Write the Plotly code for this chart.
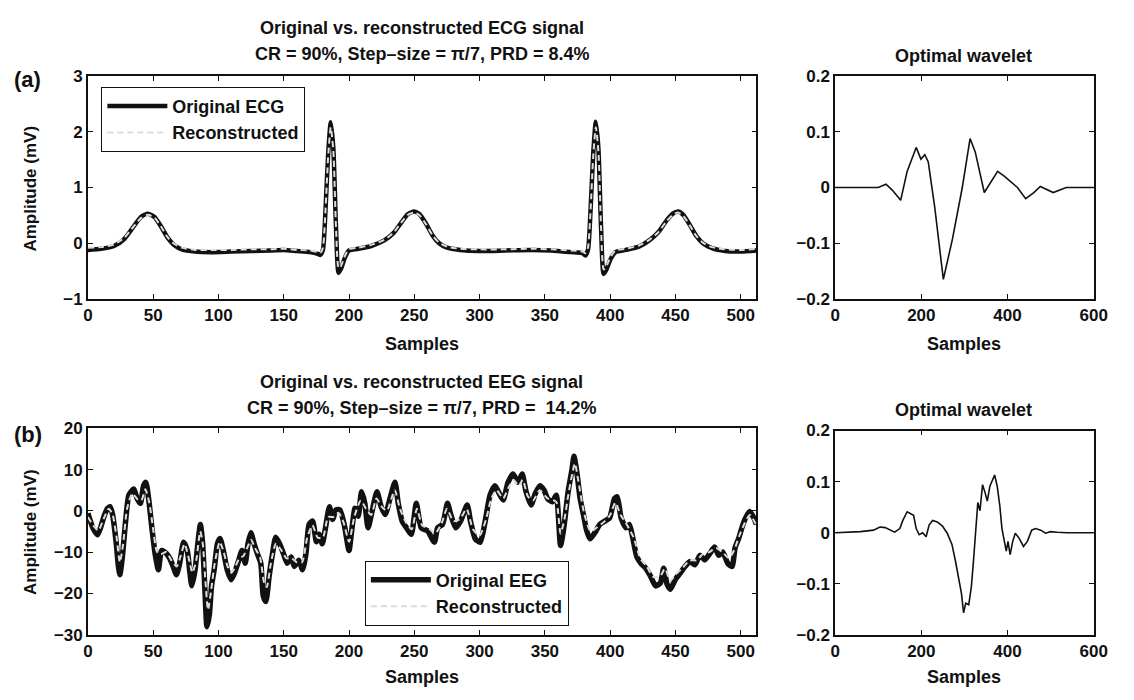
import plotly.graph_objects as go

# ---------------- DATA ----------------
ecg_x = [0, 10, 20, 28, 35, 41, 46, 51, 56, 61, 66, 72, 82, 95, 110, 125, 140, 150, 160, 170, 176, 178, 180, 182, 184, 186, 188, 190, 192, 194, 197, 200, 207, 217, 227, 234, 240, 245, 250, 254, 259, 264, 269, 275, 285, 300, 320, 340, 355, 370, 379, 381, 383, 385, 387, 389, 391, 393, 395, 397, 400, 404, 412, 422, 430, 437, 443, 448, 452, 456, 461, 466, 471, 478, 488, 500, 512]
ecg_orig = [-0.12, -0.10, -0.05, 0.08, 0.30, 0.48, 0.53, 0.47, 0.30, 0.10, -0.03, -0.11, -0.15, -0.16, -0.15, -0.14, -0.13, -0.12, -0.14, -0.16, -0.19, -0.21, -0.12, 0.6, 1.6, 2.17, 1.7, 0.3, -0.53, -0.45, -0.25, -0.13, -0.10, -0.05, 0.05, 0.18, 0.37, 0.52, 0.57, 0.52, 0.35, 0.14, 0.00, -0.08, -0.12, -0.14, -0.13, -0.12, -0.13, -0.16, -0.18, -0.22, -0.12, 0.6, 1.6, 2.18, 1.7, 0.3, -0.55, -0.48, -0.30, -0.16, -0.12, -0.06, 0.05, 0.20, 0.40, 0.53, 0.57, 0.51, 0.33, 0.13, 0.00, -0.09, -0.14, -0.15, -0.13]
ecg_rec = [-0.08, -0.07, -0.02, 0.10, 0.30, 0.46, 0.51, 0.46, 0.30, 0.11, -0.01, -0.08, -0.12, -0.12, -0.12, -0.11, -0.11, -0.10, -0.12, -0.13, -0.16, -0.17, -0.08, 0.6, 1.55, 2.08, 1.65, 0.3, -0.45, -0.40, -0.22, -0.11, -0.08, -0.03, 0.06, 0.19, 0.37, 0.51, 0.55, 0.50, 0.34, 0.14, 0.01, -0.06, -0.10, -0.11, -0.11, -0.10, -0.11, -0.13, -0.15, -0.18, -0.08, 0.6, 1.55, 2.08, 1.65, 0.3, -0.47, -0.42, -0.26, -0.13, -0.10, -0.04, 0.06, 0.20, 0.39, 0.51, 0.55, 0.49, 0.32, 0.13, 0.01, -0.07, -0.11, -0.12, -0.10]

wav_a_x = [0, 100, 118, 133, 152, 167, 188, 199, 208, 216, 231, 251, 272, 295, 313, 325, 346, 359, 377, 393, 423, 442, 461, 476, 491, 506, 536, 600]
wav_a_y = [0, 0, 0.006, -0.005, -0.023, 0.029, 0.072, 0.051, 0.059, 0.046, -0.035, -0.165, -0.093, 0.0, 0.088, 0.064, -0.009, 0.006, 0.029, 0.020, 0.0, -0.020, -0.009, 0.002, -0.004, -0.009, 0.0, 0.0]

eeg_x = [0, 3.8, 7.4, 10.1, 12.4, 15.1, 16.9, 18.9, 21.5, 23.4, 24.5, 26.4, 28.9, 31.4, 35.1, 37.7, 40.2, 42.7, 44.4, 46.5, 49, 51.5, 54, 56.5, 60.3, 62.8, 65.3, 67.8, 70.3, 73.3, 76.1, 77.9, 79.6, 82.1, 84.2, 86.2, 87.9, 89.6, 91.2, 93, 94.7, 96.7, 99.2, 101.2, 103.7, 106.7, 109.7, 112.3, 115.5, 118, 120.5, 122.6, 124.8, 127.3, 129.8, 132.4, 134.3, 136.3, 138.8, 141.4, 143.9, 146.8, 149.8, 152.7, 155.7, 158.1, 161.5, 164.4, 167, 169.4, 172.1, 175, 177, 179.5, 182, 185, 187.5, 190, 193, 196.3, 200, 202, 204.6, 207, 209.6, 212.1, 214.6, 217.6, 221.4, 224.6, 227.7, 231.4, 235.2, 237.7, 240.7, 244, 247.7, 251.5, 255.3, 260.3, 265.4, 267.9, 271.6, 275.4, 277.9, 281.7, 285.4, 290.5, 293, 296.7, 300.5, 304.3, 308, 311.8, 315, 318.1, 321.8, 325.6, 329.4, 332.6, 335.6, 339.4, 342.7, 346.2, 349.4, 352, 355.7, 358.7, 362, 364.5, 367.8, 370.8, 372.3, 374.5, 377, 379.5, 382.1, 384.6, 388.3, 392.1, 395.9, 399.6, 403.4, 405.4, 408.4, 412.2, 414.7, 417.2, 420.5, 423.5, 427.2, 431, 434.8, 438.5, 441, 443.6, 446.1, 449.8, 453.6, 457.4, 461.1, 464.9, 468.7, 472.4, 476.2, 480, 483.2, 486.2, 490, 493.3, 495.8, 498.3, 501.3, 503.8, 506.8, 510, 512]
eeg_orig = [-0.6, -4.1, -5.8, -3.7, -1.3, 0.6, 1.0, -0.9, -7.2, -13.5, -15.5, -11.2, -2.5, 3.8, 5.3, 3.0, 1.8, 6.1, 6.9, 3.0, -4.1, -10.4, -14.3, -9.6, -10.4, -11.6, -13.5, -15.5, -12.7, -7.6, -9.6, -14.3, -18.2, -14.3, -8.0, -3.3, -8.0, -19.0, -28.1, -25.3, -18.2, -14.3, -8.0, -6.7, -9.6, -14.3, -16.7, -15.1, -12.0, -9.6, -12.7, -8.0, -5.3, -8.0, -10.4, -12.7, -20.6, -22.0, -15.9, -10.4, -6.4, -8.0, -10.4, -12.7, -11.2, -13.5, -12.0, -14.3, -10.4, -3.3, -2.5, -7.5, -5.7, -8.0, -4.1, 1.0, -2.1, 0.2, 0.2, -3.3, -9.6, -4.9, 0.6, -1.3, 4.6, 1.8, -4.1, -0.2, 4.6, 1.0, -0.9, 3.0, 6.9, 1.8, -2.5, -4.1, -5.7, 1.8, -4.1, -4.9, -7.6, -4.1, -3.3, 1.8, -0.9, -4.1, -2.5, 1.4, -2.5, -6.8, -7.6, -2.5, 3.8, 6.1, 4.2, 2.6, 6.9, 8.9, 6.9, 8.9, 4.6, 1.4, 4.2, 6.1, 5.0, 3.0, 2.2, 3.8, -8.4, -4.1, 4.6, 10.1, 13.2, 9.3, 3.0, -0.9, -4.9, -6.8, -5.3, -3.3, -2.5, -1.7, 3.0, 3.4, -1.7, -4.1, -3.3, -6.4, -11.2, -12.7, -13.9, -15.9, -18.2, -17.5, -13.9, -17.8, -19.0, -16.7, -15.1, -13.5, -12.3, -13.1, -10.8, -11.9, -10.4, -8.8, -10.8, -10.0, -12.7, -13.5, -8.8, -6.8, -3.7, -1.7, -0.2, -1.7, -3.3]

eeg_rec_x = [0, 4, 8, 12, 16, 19, 22, 24.5, 27, 30, 34, 38, 41, 44, 47, 50, 53, 56, 60, 64, 68, 71, 74, 78, 80, 83, 86, 88, 90, 92, 94.5, 97, 101, 104, 107, 110, 113, 116, 119, 122, 125, 128, 132, 135, 137, 140, 144, 148, 152, 156, 160, 164, 168, 172, 176, 180, 184, 188, 192, 196, 200, 204, 209, 213, 217, 221, 225, 229, 235, 239, 244, 248, 252, 256, 262, 266, 271, 275, 280, 285, 290, 295, 300, 305, 309, 313, 318, 322, 326, 330, 333, 337, 341, 346, 352, 357, 359, 362, 365, 368, 371, 373, 376, 380, 385, 390, 396, 400, 404, 408, 413, 418, 423, 428, 433, 438, 442, 446, 450, 455, 461, 466, 471, 476, 481, 486, 491, 495, 499, 503, 507, 512]
eeg_rec = [-1.5, -3.5, -4.8, -2.0, 0.5, -1.0, -6.5, -12.5, -8.0, 0.5, 4.2, 2.8, 2.5, 5.2, 2.0, -4.5, -10.0, -10.5, -10.0, -12.0, -13.5, -11.0, -8.0, -12.5, -15.0, -12.0, -5.0, -8.0, -17.0, -24.0, -19.0, -13.0, -7.5, -10.0, -13.5, -15.0, -13.5, -11.5, -11.0, -9.0, -7.0, -9.0, -11.5, -17.5, -18.5, -13.0, -8.0, -9.5, -11.5, -11.5, -12.5, -12.5, -6.5, -3.5, -6.5, -6.5, -1.5, -1.5, -0.5, -3.0, -7.5, -1.5, 2.5, 0.5, -1.0, 3.0, 1.0, 0.0, 5.0, 0.5, -3.0, -4.5, 0.5, -3.5, -4.5, -5.5, -3.0, 0.5, -2.5, -2.0, 0.5, -4.5, -6.0, -2.0, 3.0, 5.0, 3.0, 5.5, 7.5, 6.0, 7.5, 3.5, 2.5, 5.0, 3.0, 2.5, 2.0, -5.5, -2.0, 4.0, 9.0, 11.5, 6.5, -0.5, -5.0, -4.0, -2.5, -1.0, 2.0, -1.0, -3.5, -6.5, -11.5, -13.5, -16.0, -16.0, -14.0, -17.0, -15.5, -14.0, -12.0, -12.0, -10.5, -10.0, -9.0, -10.0, -11.5, -9.5, -6.0, -3.0, -1.0, -3.5]

wav_b_x = [0, 59, 89, 104, 116, 127, 138, 150, 157, 167, 174, 182, 188, 195, 203, 211, 218, 226, 237, 249, 260, 271, 279, 287, 293, 298, 303, 310, 316, 321, 326, 331, 336, 342, 348, 353, 359, 370, 376, 382, 387, 392, 397, 401, 406, 412, 418, 427, 437, 446, 456, 465, 477, 488, 500, 515, 538, 600]
wav_b_y = [0, 0.002, 0.005, 0.011, 0.010, 0.005, 0.001, 0.008, 0.024, 0.041, 0.037, 0.034, 0.008, -0.004, 0.0, -0.008, 0.015, 0.024, 0.021, 0.013, -0.001, -0.023, -0.055, -0.093, -0.119, -0.157, -0.138, -0.141, -0.106, -0.055, 0.008, 0.059, 0.043, 0.094, 0.078, 0.062, 0.091, 0.113, 0.091, 0.053, 0.008, -0.011, -0.036, -0.017, -0.043, -0.017, -0.001, -0.011, -0.027, -0.017, 0.005, 0.008, 0.005, -0.001, 0.002, 0.001, 0.0, 0.0]

ecg_ticks = [0, 50, 100, 150, 200, 250, 300, 350, 400, 450, 500]

# ---------------- FIGURE ----------------
W, H = 1134, 700
def px(x): return x / W
def py(y): return 1 - y / H

FONT = "Liberation Sans"
BLACK = "#111111"
GRAY = "#dcdcdc"

fig = go.Figure()

fig.add_trace(go.Scatter(x=ecg_x, y=ecg_orig, mode="lines", name="<b>Original ECG</b>",
                         line=dict(color=BLACK, width=4.5, shape="spline", smoothing=0.6),
                         xaxis="x", yaxis="y", legend="legend"))
fig.add_trace(go.Scatter(x=ecg_x, y=ecg_rec, mode="lines", name="<b>Reconstructed</b>",
                         line=dict(color=GRAY, width=2, dash="6px,4px", shape="spline", smoothing=0.6),
                         xaxis="x", yaxis="y", legend="legend"))
fig.add_trace(go.Scatter(x=wav_a_x, y=wav_a_y, mode="lines", showlegend=False,
                         line=dict(color=BLACK, width=1.6), xaxis="x2", yaxis="y2"))
fig.add_trace(go.Scatter(x=eeg_x, y=eeg_orig, mode="lines", name="<b>Original EEG</b>",
                         line=dict(color=BLACK, width=5.5, shape="spline", smoothing=0.6),
                         xaxis="x3", yaxis="y3", legend="legend2"))
fig.add_trace(go.Scatter(x=eeg_rec_x, y=eeg_rec, mode="lines", name="<b>Reconstructed</b>",
                         line=dict(color=GRAY, width=2, dash="6px,4px", shape="spline", smoothing=0.6),
                         xaxis="x3", yaxis="y3", legend="legend2"))
fig.add_trace(go.Scatter(x=wav_b_x, y=wav_b_y, mode="lines", showlegend=False,
                         line=dict(color=BLACK, width=1.6), xaxis="x4", yaxis="y4"))

tickfont = dict(family=FONT, size=17, color=BLACK)
def axis(domain, rng, tickvals, anchor, ticktext=None):
    d = dict(domain=domain, range=rng, tickvals=tickvals, anchor=anchor,
             showline=True, linecolor=BLACK, linewidth=1.5, mirror="ticks",
             ticks="inside", ticklen=5, tickcolor=BLACK, tickwidth=1,
             showgrid=False, zeroline=False, tickfont=tickfont)
    if ticktext is not None:
        d["ticktext"] = ticktext
    return d

xa = [px(84.3), px(764.2)]
xw = [px(844.3), px(1107.3)]
ya = [py(298), py(69)]
yb = [py(643), py(431)]
ywb = [py(643.3), py(433.3)]

ecg_text = ["<b>%d</b>" % v for v in ecg_ticks]
fig.update_layout(
    xaxis=axis(xa, [0, 512], ecg_ticks, "y", ecg_text),
    yaxis=axis(ya, [-1, 3], [-1, 0, 1, 2, 3], "x", ["<b>−1</b>", "<b>0</b>", "<b>1</b>", "<b>2</b>", "<b>3</b>"]),
    xaxis2=axis(xw, [0, 600], [0, 200, 400, 600], "y2", ["<b>0</b>", "<b>200</b>", "<b>400</b>", "<b>600</b>"]),
    yaxis2=axis(ya, [-0.2, 0.2], [-0.2, -0.1, 0, 0.1, 0.2], "x2", ["<b>−0.2</b>", "<b>−0.1</b>", "<b>0</b>", "<b>0.1</b>", "<b>0.2</b>"]),
    xaxis3=axis(xa, [0, 512], ecg_ticks, "y3", ecg_text),
    yaxis3=axis(yb, [-30, 20], [-30, -20, -10, 0, 10, 20], "x3", ["<b>−30</b>", "<b>−20</b>", "<b>−10</b>", "<b>0</b>", "<b>10</b>", "<b>20</b>"]),
    xaxis4=axis(xw, [0, 600], [0, 200, 400, 600], "y4", ["<b>0</b>", "<b>200</b>", "<b>400</b>", "<b>600</b>"]),
    yaxis4=axis(ywb, [-0.2, 0.2], [-0.2, -0.1, 0, 0.1, 0.2], "x4", ["<b>−0.2</b>", "<b>−0.1</b>", "<b>0</b>", "<b>0.1</b>", "<b>0.2</b>"]),
)

legend_style = dict(bgcolor="white", bordercolor=BLACK, borderwidth=1,
                    font=dict(family=FONT, size=18, color=BLACK),
                    xanchor="left", yanchor="top", tracegroupgap=0, itemwidth=60)
fig.update_layout(
    legend=dict(x=px(98), y=py(80), **legend_style),
    legend2=dict(x=px(366), y=py(567), **legend_style),
)

def ann(text, x, y, size=18, angle=0):
    fig.add_annotation(text="<b>%s</b>" % text, x=px(x), y=py(y), xref="paper", yref="paper",
                       showarrow=False, xanchor="center", yanchor="middle", textangle=angle,
                       font=dict(family=FONT, size=size, color=BLACK))

ann("Original vs. reconstructed ECG signal", 424, 20)
ann("CR = 90%, Step–size = π/7, PRD = 8.4%", 424, 46)
ann("Optimal wavelet", 975, 48)
ann("Samples", 424, 344)
ann("Samples", 975, 344)
ann("Amplitude (mV)", 26, 185, size=17, angle=-90)
ann("(a)", 23, 72, size=22)

ann("Original vs. reconstructed EEG signal", 424, 383)
ann("CR = 90%, Step–size = π/7, PRD =  14.2%", 424, 410)
ann("Optimal wavelet", 975, 412)
ann("Samples", 424, 687)
ann("Samples", 975, 687)
ann("Amplitude (mV)", 26, 538, size=17, angle=-90)
ann("(b)", 23, 437, size=22)

fig.update_layout(width=W, height=H, margin=dict(l=0, r=0, t=0, b=0),
                  paper_bgcolor="white", plot_bgcolor="white",
                  font=dict(family=FONT, color=BLACK))

fig.write_html("out.html")
